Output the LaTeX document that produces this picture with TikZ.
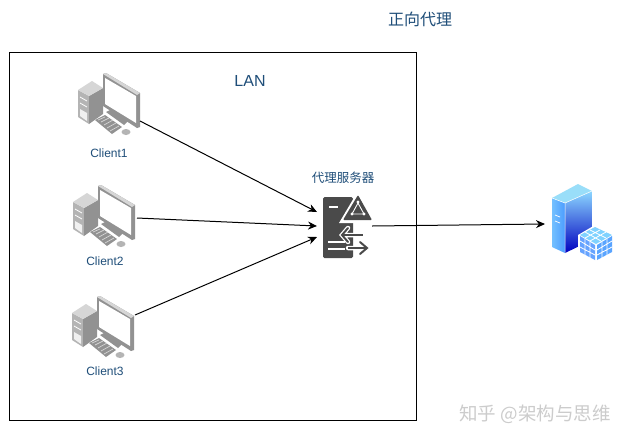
\documentclass[tikz,border=0pt]{standalone}
\usepackage{fontspec}
\setmainfont{Liberation Sans}
\newfontfamily\cjk{Noto Sans CJK SC}
\usetikzlibrary{arrows.meta,calc}
\definecolor{labelblue}{HTML}{1F4E79}
\definecolor{pcA}{HTML}{B4B4B4}
\definecolor{pcB}{HTML}{D6D6D6}
\definecolor{pcC}{HTML}{929292}
\definecolor{iconDark}{HTML}{4A4A4A}
\tikzset{
  x=1pt,y=-1pt,
  label text/.style={text=labelblue,font=\fontsize{12}{14}\selectfont,inner sep=0pt},
  conn/.style={draw=black,line width=1pt,-{Stealth[length=9pt,width=8pt]}},
  pics/computer/.style={code={
    % tower
    \fill[pcA] (18,30) -- (29,36) -- (29,64) -- (18,57) -- cycle;
    \fill[pcC] (29,36) -- (43,28) -- (43,54) -- (29,64) -- cycle;
    \fill[pcB] (18,30) -- (32,21) -- (43,28) -- (29,36) -- cycle;
    \draw[white,line width=.8pt] (20,37) -- (27,41) (20,43) -- (27,47);
    \fill[white!80!pcA] (20,49) -- (27,53) -- (27,61) -- (20,56) -- cycle;
    % stand
    \fill[pcC] (46,52) -- (50,50) -- (68,61) -- (64,65) -- cycle;
    % monitor
    \fill[pcC] (43,14) -- (46,13) -- (80,33) -- (80,67) -- (77,68) -- (43,46) -- cycle;
    \fill[pcB] (43,14) -- (46,13) -- (80,33) -- (77,35) -- cycle;
    \fill[white] (45,18) -- (76,36) -- (76,63) -- (45,44) -- cycle;
    % keyboard
    \fill[pcC] (35,60) -- (45,55) -- (62,67) -- (52,74) -- cycle;
    \draw[pcB,line width=.7pt] (38,60) -- (45,57) (41,62) -- (49,58) (44,65) -- (53,60) (47,68) -- (56,63) (50,71) -- (59,66);
    % mouse
    \fill[pcA] (66,72) ellipse [x radius=4.5,y radius=3];
  }},
}
\begin{document}
\begin{tikzpicture}
\useasboundingbox (0,0) rectangle (628,440);
\fill[white] (0,0) rectangle (628,440);
\node[name=frame,draw=black,line width=.8pt,minimum width=407pt,minimum height=368pt,anchor=north west,inner sep=0pt] at (9,52) {};
\node[name=title,text=labelblue,font=\cjk\fontsize{16}{18}\selectfont,inner sep=0pt] at (420,19) {正向代理};
\node[name=lan,text=labelblue,font=\fontsize{16}{18}\selectfont,inner sep=0pt] at (250,81) {LAN};

% clients
\pic at (60,60) {computer};
\pic at (55,172) {computer};
\pic at (54,283) {computer};
\node[name=l1,label text] at (109,153) {Client1};
\node[name=l2,label text] at (105,261) {Client2};
\node[name=l3,label text] at (105,371) {Client3};
\node[name=proxylabel,text=labelblue,font=\cjk\fontsize{12.5}{14}\selectfont,inner sep=0pt] at (343,178) {代理服务器};

% proxy icon
\fill[iconDark,rounded corners=1.5pt] (323,197) rectangle (353,258);
\draw[white,line width=1.6pt] (329,207) -- (338,207);
\draw[white,line width=1.6pt] (328,242) -- (345,242) (328,249) -- (345,249);
\fill[white] (358,191) -- (376,223) -- (339,223) -- cycle;
\fill[iconDark,rounded corners=1pt] (358,195) -- (372,220) -- (343,220) -- cycle;
\draw[white,line width=.9pt] (358,203) -- (352,214) -- (364,214) -- cycle;
\fill[white] (358,202) circle (1.6) (352,214) circle (1.6) (364,214) circle (1.6);
% left arrow with white halo
\draw[white,line width=4.5pt,line cap=round] (348,228) -- (342,235) -- (348,242) (342,235) -- (363,235);
\draw[iconDark,line width=1.8pt] (343,235) -- (363,235);
\draw[iconDark,line width=2pt,line cap=round] (348,228) -- (342,235) -- (348,242);
% right arrow with white halo
\draw[white,line width=4.5pt,line cap=round] (348,248) -- (366,248) (360,242) -- (367,248) -- (360,254);
\draw[iconDark,line width=1.8pt] (348,248) -- (366,248);
\draw[iconDark,line width=2pt,line cap=round] (360,242) -- (367,248) -- (360,254);

% server
\shade[left color=blue!45!cyan!55!white,right color=blue!55!cyan!70!white] (552,198) -- (565,203) -- (565,253) -- (552,247) -- cycle;
\shade[top color=blue!35!cyan!45!white,bottom color=blue!75!black] (565,203) -- (592,191) -- (592,240) -- (565,253) -- cycle;
\fill[cyan!40!white] (552,198) -- (578,184) -- (592,191) -- (565,203) -- cycle;
\draw[white,line width=.7pt] (555,215) -- (560,217) (555,221) -- (560,223);
\draw[white,line width=.5pt] (552,198) -- (565,203) -- (592,191) (565,203) -- (565,253);
% cube
\fill[white] (595,225) -- (614,235) -- (613,254) -- (597,262) -- (578,253) -- (578,235) -- cycle;
\fill[blue!35!cyan!50!white] (595,227) -- (612,235) -- (596,244) -- (580,235) -- cycle;
\fill[blue!60!cyan!60!white] (580,236) -- (595,245) -- (595,260) -- (580,252) -- cycle;
\fill[blue!55!cyan!65!white] (597,245) -- (612,236) -- (612,252) -- (597,260) -- cycle;
\draw[white,line width=.8pt]
 (590,230) -- (606,238) (585,232) -- (601,241)
 (600,230) -- (585,238) (606,232) -- (590,241)
 (585,239) -- (585,255) (590,242) -- (590,258)
 (602,242) -- (602,258) (607,239) -- (607,255)
 (580,241) -- (595,250) (580,247) -- (595,255)
 (612,241) -- (597,250) (612,247) -- (597,255);

% anchors
\coordinate (c1) at (140,121);
\coordinate (c2) at (137,218);
\coordinate (c3) at (135,315);
\coordinate (p1) at (317,212);
\coordinate (p2) at (317,226);
\coordinate (p3) at (317,237);
\coordinate (pout) at (372,226);
\coordinate (srv) at (545,224);
\draw[conn] (c1) -- (p1);
\draw[conn] (c2) -- (p2);
\draw[conn] (c3) -- (p3);
\draw[conn] (pout) -- (srv);

% watermark
\node[name=wm,text=black!20,font=\cjk\fontsize{18.5}{20}\selectfont,inner sep=0pt] at (535,414) {知乎 @架构与思维};
\end{tikzpicture}
\end{document}
